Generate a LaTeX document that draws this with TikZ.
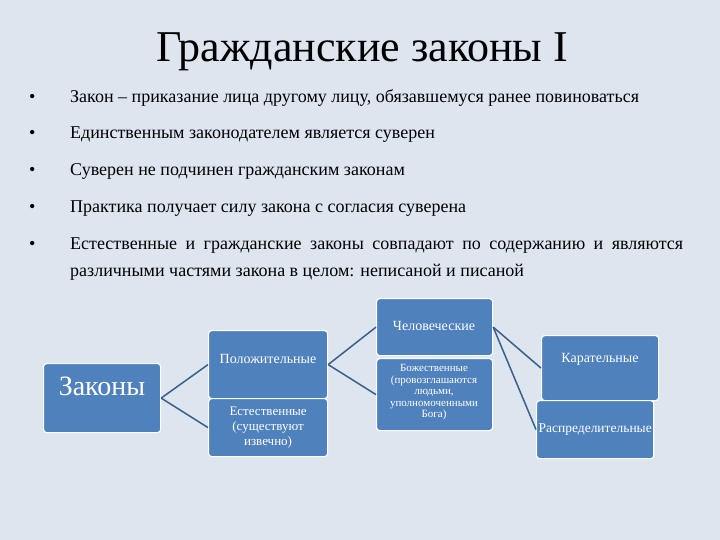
\documentclass[tikz,border=0pt]{standalone}
\usepackage{fontspec}
\setmainfont{Liberation Serif}
\definecolor{bg}{HTML}{DDE5EF}
\definecolor{bx}{HTML}{4F81BD}
\definecolor{ln}{HTML}{3A5F8C}
\tikzset{box/.style={draw=white,line width=1.2pt,fill=bx,rounded corners=3pt,text=white,align=center,inner sep=2pt},
 con/.style={draw=ln,line width=1.5pt},
 btxt/.style={anchor=base west,font=\fontsize{18}{27}\selectfont,inner sep=0pt}}
\begin{document}
\begin{tikzpicture}[x=1pt,y=-1pt]
\fill[bg] (0,0) rectangle (720,540);
\useasboundingbox (0,0) rectangle (720,540);
\node[font=\fontsize{44}{48}\selectfont,anchor=base] (title) at (362,62) {Гражданские законы I};
\foreach \y/\t [count=\i] in {103/{Закон – приказание лица другому лицу, обязавшемуся ранее повиноваться},
 139/{Единственным законодателем является суверен},
 176/{Суверен не подчинен гражданским законам},
 212/{Практика получает силу закона с согласия суверена}}{
 \node[btxt] (b\i) at (70,\y) {\t};
 \node[btxt] (d\i) at (29,\y) {•};}
\node[btxt] (d5) at (29,249) {•};
\node[btxt,text width=613pt,align=justify] (b5) at (70,249) {Естественные и гражданские законы совпадают по содержанию и являются различными частями закона в целом: неписаной и писаной};
\node[box,minimum width=117pt,minimum height=69pt,anchor=north west] (z) at (43,363) {};
\node[font=\fontsize{28}{30}\selectfont,text=white] (zt) at (102,386) {Законы};
\node[box,minimum width=119pt,minimum height=68pt,anchor=north west] (p) at (208,330) {};
\node[font=\fontsize{14}{15}\selectfont,text=white] (pt) at (268,359) {Положительные};
\node[box,minimum width=119pt,minimum height=58pt,font=\fontsize{13}{15}\selectfont,anchor=north west] (e) at (208,398) {Естественные\\(существуют\\извечно)};
\node[box,minimum width=116pt,minimum height=57pt,anchor=north west] (c) at (376,298) {};
\node[font=\fontsize{14}{15}\selectfont,text=white] (ct) at (434,326) {Человеческие};
\node[box,minimum width=116pt,minimum height=72pt,anchor=north west] (g) at (376,358) {};
\node[font=\fontsize{11}{11.5}\selectfont,text=white,align=center,anchor=north] (gt) at (434,361) {Божественные\\(провозглашаются\\людьми,\\уполномоченными\\Бога)};
\node[box,minimum width=117pt,minimum height=65pt,anchor=north west] (k) at (541,335) {};
\node[font=\fontsize{14}{15}\selectfont,text=white] (kt) at (600,359) {Карательные};
\node[box,minimum width=116pt,minimum height=58pt,font=\fontsize{13.5}{15}\selectfont,anchor=north west] (r) at (536,400) {Распределительные};
\draw[con] (z.east) -- (p.west);
\draw[con] (z.east) -- (e.west);
\draw[con] (p.east) -- (c.west);
\draw[con] (p.east) -- (g.west);
\draw[con] (c.east) -- (k.west);
\draw[con] (c.east) -- (r.west);
\end{tikzpicture}
\end{document}
